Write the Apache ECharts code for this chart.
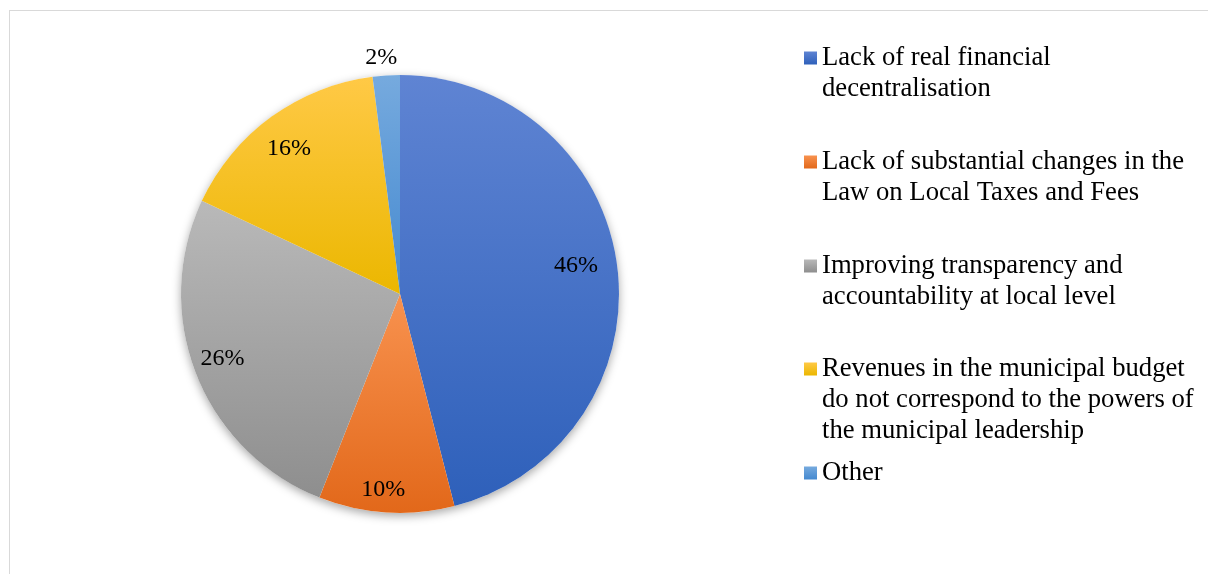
<!DOCTYPE html>
<html>
<head>
<meta charset="utf-8">
<script src="https://cdn.jsdelivr.net/npm/echarts@6/dist/echarts.min.js"></script>
<style>
  html, body { margin: 0; padding: 0; background: #ffffff; overflow: hidden; }
  #chart { position: absolute; left: 0; top: 0; width: 1208px; height: 574px; }
  #frame { position: absolute; left: 9px; top: 10px; right: -20px; bottom: -20px;
           border: 1px solid #d9d9d9; pointer-events: none; }
</style>
</head>
<body>
<div id="chart"></div>
<div id="frame"></div>
<script>
// Survey answers and their shares (%)
const categories = [
  'Lack of real financial decentralisation',
  'Lack of substantial changes in the Law on Local Taxes and Fees',
  'Improving transparency and accountability at local level',
  'Revenues in the municipal budget do not correspond to the powers of the municipal leadership',
  'Other'
];
const legendLines = [
  ['Lack of real financial', 'decentralisation'],
  ['Lack of substantial changes in the', 'Law on Local Taxes and Fees'],
  ['Improving transparency and', 'accountability at local level'],
  ['Revenues in the municipal budget', 'do not correspond to the powers of', 'the municipal leadership'],
  ['Other']
];
const shares = [46, 10, 26, 16, 2];

// Top / bottom colours of each slice's vertical gradient
const sliceGradients = [
  ['#5f84d3', '#2e60ba'],
  ['#f8924f', '#e2681a'],
  ['#b9b9b9', '#8e8e8e'],
  ['#ffc946', '#ebb700'],
  ['#76aade', '#4489d0']
];

const FONT = '"Liberation Serif", "Times New Roman", serif';
const CENTER = [400, 294];
const R = 219;
const LINE_H = 31;
const MARK = 13;
const legendRowCenters = [58, 162, 266, 369, 473];
// small hand placement of the in-slice percentage labels
const labelNudge = [[-8, -5], [-5, 11], [-5, -4], [-2, 5], [0, 0]];

const gradient = (i, span) => new echarts.graphic.LinearGradient(0, 0, 0, span, [
  { offset: 0, color: sliceGradients[i][0] },
  { offset: 1, color: sliceGradients[i][1] }
]);

const chart = echarts.init(document.getElementById('chart'), null, { renderer: 'canvas' });

// One legend block per answer; the marker path keeps the square at the
// top of a taller (empty) box so it lines up with the first text line.
const legends = categories.map((name, i) => {
  const n = legendLines[i].length;
  const h = MARK + (n - 1) * LINE_H;
  return {
    left: 804,
    top: legendRowCenters[i] - (MARK / 2) - (LINE_H - MARK) / 2,
    padding: 0,
    orient: 'vertical',
    icon: 'path://M0 0H' + MARK + 'V' + MARK + 'H0Z M0 ' + h,
    symbolKeepAspect: false,
    itemWidth: MARK,
    itemHeight: h,
    selectedMode: false,
    itemStyle: { borderWidth: 0 },
    formatter: () => legendLines[i].join('\n'),
    textStyle: {
      fontFamily: FONT,
      fontSize: 26.67,
      lineHeight: LINE_H,
      color: '#000000'
    },
    data: [{
      name: name,
      itemStyle: { color: gradient(i, MARK / h), borderWidth: 0 }
    }]
  };
});

const option = {
  backgroundColor: '#ffffff',
  animation: false,
  legend: legends,
  series: [
    {
      // soft drop shadow under the whole disc
      type: 'pie',
      silent: true,
      center: CENTER,
      radius: R,
      label: { show: false },
      labelLine: { show: false },
      itemStyle: {
        color: '#ffffff',
        shadowBlur: 10,
        shadowOffsetY: 3,
        shadowColor: 'rgba(0,0,0,0.35)'
      },
      data: [{ name: '', value: 1 }]
    },
    {
      type: 'pie',
      center: CENTER,
      radius: R,
      startAngle: 90,
      clockwise: true,
      silent: true,
      label: { show: false },
      labelLine: { show: false },
      itemStyle: { borderWidth: 0 },
      data: categories.map((name, i) => ({
        name: name,
        value: shares[i],
        itemStyle: { color: gradient(i, 1) }
      }))
    },
    {
      // transparent ring that carries the percentage labels
      type: 'pie',
      center: CENTER,
      radius: [146, R],
      startAngle: 90,
      clockwise: true,
      silent: true,
      avoidLabelOverlap: false,
      itemStyle: { color: 'rgba(0,0,0,0)', borderWidth: 0 },
      label: {
        show: true,
        position: 'inside',
        formatter: '{c}%',
        fontFamily: FONT,
        fontSize: 24,
        color: '#000000'
      },
      labelLine: { show: false },
      labelLayout: p => ({ dx: labelNudge[p.dataIndex][0], dy: labelNudge[p.dataIndex][1] }),
      data: categories.map((name, i) => {
        const item = { name: name, value: shares[i] };
        if (i === 4) {
          item.label = { position: 'outside', distanceToLabelLine: -12 };
          item.labelLine = { show: false, length: 18, length2: 0 };
        }
        return item;
      })
    }
  ]
};

chart.setOption(option);
</script>
</body>
</html>
